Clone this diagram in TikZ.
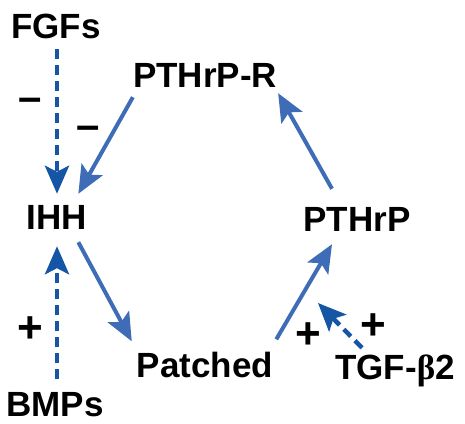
\documentclass[tikz,border=0pt]{standalone}
\usepackage{fontspec}
\setmainfont{Liberation Sans}
\newfontfamily\greekfont{Liberation Serif}
\usetikzlibrary{arrows.meta}

\definecolor{actblue}{RGB}{62,108,182}
\definecolor{dashblue}{RGB}{20,86,165}

\tikzset{
    gene/.style={font=\fontsize{35}{40}\selectfont\bfseries, inner sep=0pt, text height=25pt, text depth=0pt},
    minussign/.style={font=\fontsize{42}{44}\selectfont\bfseries, inner sep=0pt, anchor=base},
    plussign/.style={font=\fontsize{44}{46}\selectfont\bfseries, inner sep=0pt, anchor=base},
    act/.style={actblue, line width=4pt, -{Stealth[length=28pt, width=24pt, inset=6pt]}},
    dashact/.style={dashblue, line width=4.5pt, dash pattern=on 10pt off 6pt, -{Stealth[length=28pt, width=24pt, inset=6pt]}}
}

\begin{document}
\begin{tikzpicture}[x=1pt, y=-1pt]
    \useasboundingbox (0,0) rectangle (465,423);

    % Genes of the loop
    \node[gene] (fgfs) at (56, 25.5) {FGFs};
    \node[gene] (pthrpr) at (205, 74.5) {PTHrP-R};
    \node[gene] (ihh) at (57, 216.5) {IHH};
    \node[gene] (pthrp) at (357, 218.5) {PTHrP};
    \node[gene] (patched) at (205, 365) {Patched};
    \node[gene] (tgf) at (395, 366.5) {TGF-{\greekfont β}2};
    \node[gene] (bmps) at (55, 403.5) {BMPs};

    % Signs
    \node[minussign] (minusfgf) at (30, 111) {–};
    \node[minussign] (minusr) at (88, 139) {–};
    \node[plussign] (plusbmp) at (30, 342) {+};
    \node[plussign] (pluspat) at (308, 348) {+};
    \node[plussign] (plustgf) at (373, 339) {+};

    % Solid loop arrows
    \draw[act] ([yshift=-10pt]pthrpr.south west) -- ([xshift=-9pt, yshift=10pt]ihh.north east);
    \draw[act] ([xshift=-9pt, yshift=-13pt]ihh.south east) -- ([xshift=-5pt, yshift=11pt]patched.north west);
    \draw[act] ([xshift=3pt, yshift=13pt]patched.north east) -- ([xshift=-25pt, yshift=-13pt]pthrp.south);
    \draw[act] ([xshift=-25pt, yshift=17pt]pthrp.north) -- ([xshift=1pt, yshift=-6pt]pthrpr.south east);

    % Dashed inputs
    \draw[dashact] ([xshift=1pt, yshift=-11pt]fgfs.south) -- ([yshift=10pt]ihh.north);
    \draw[dashact] ([xshift=2pt, yshift=11.5pt]bmps.north) -- ([yshift=-17pt]ihh.south);
    \coordinate (tgftip) at (318, 303);
    \draw[dashact] ([xshift=-33pt, yshift=6pt]tgf.north) -- (tgftip);
\end{tikzpicture}
\end{document}
